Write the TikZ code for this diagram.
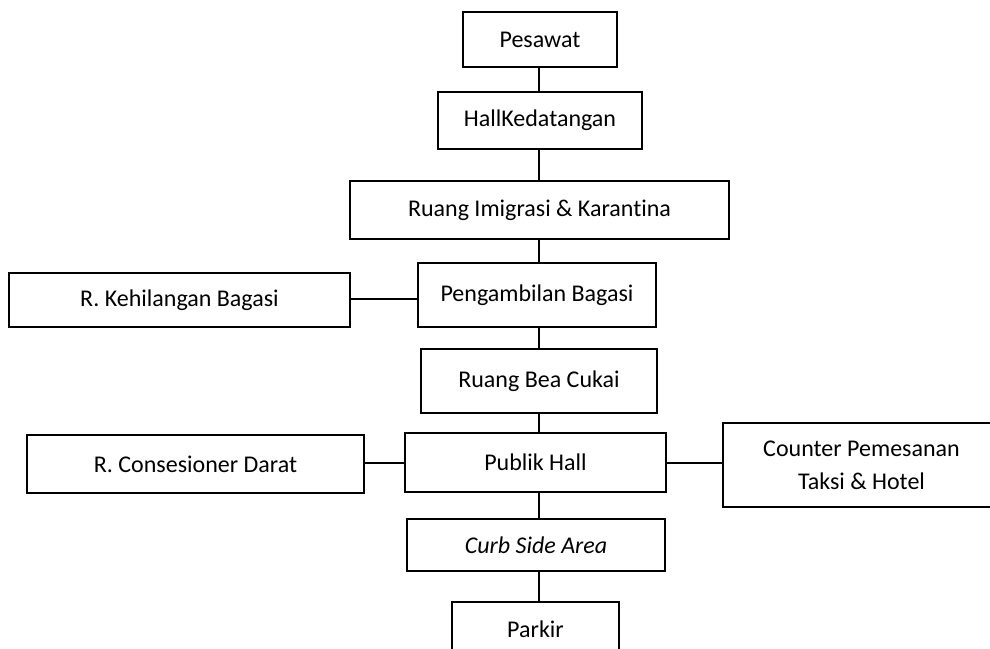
\documentclass[tikz,border=0pt]{standalone}
\usepackage{fontspec}
\setmainfont{Carlito}[Ligatures=NoCommon]
\begin{document}
\begin{tikzpicture}[x=0.5pt,y=-0.5pt,
  box/.style={draw, line width=1pt, inner sep=0pt, align=center,
    font=\fontsize{12}{16.5}\selectfont},
  link/.style={line width=1pt}]
  \useasboundingbox (0,0) rectangle (990,648);
  \clip (0,0) rectangle (990,648);

  % main arrival sequence
  \node[box, minimum width=77pt,  minimum height=27.5pt] (pes)    at (540,39.5)  {Pesawat};
  \node[box, minimum width=102pt, minimum height=28.5pt] (hall)   at (540,120.5) {HallKedatangan};
  \node[box, minimum width=189.5pt, minimum height=29pt] (imig)   at (539.5,210) {Ruang Imigrasi \& Karantina};
  \node[box, minimum width=119pt, minimum height=32pt]   (ambil)  at (537,295)   {Pengambilan Bagasi};
  \node[box, minimum width=118pt, minimum height=32pt]   (bea)    at (539,381)   {Ruang Bea Cukai};
  \node[box, minimum width=130.5pt, minimum height=29.5pt] (publik) at (535.5,462.5) {Publik Hall};
  \node[box, minimum width=129pt, minimum height=26pt]   (curb)   at (536,545)   {\itshape Curb Side Area};
  \node[box, minimum width=83.5pt, minimum height=27.5pt] (parkir) at (535.5,629.5) {Parkir};

  % side rooms
  \node[box, minimum width=170.5pt, minimum height=27pt] (keh)   at (179.5,300) {R. Kehilangan Bagasi};
  \node[box, minimum width=168.5pt, minimum height=29pt] (cons)  at (195.5,464) {R. Consesioner Darat};
  \node[box, minimum width=138.5pt, minimum height=42pt] (taksi) at (861.5,465) {Counter Pemesanan\\Taksi \& Hotel};

  % vertical spine
  \coordinate (spine) at (539,0);
  \draw[link] (pes.south -| spine)    -- (hall.north -| spine);
  \draw[link] (hall.south -| spine)   -- (imig.north -| spine);
  \draw[link] (imig.south -| spine)   -- (ambil.north -| spine);
  \draw[link] (ambil.south -| spine)  -- (bea.north -| spine);
  \draw[link] (bea.south -| spine)    -- (publik.north -| spine);
  \draw[link] (publik.south -| spine) -- (curb.north -| spine);
  \draw[link] (curb.south -| spine)   -- (parkir.north -| spine);

  % side branches
  \draw[link] (keh.east |- 0,299) -- (ambil.west |- 0,299);
  \draw[link] (publik.west) -- (publik.west -| cons.east);
  \draw[link] (publik.east) -- (publik.east -| taksi.west);
\end{tikzpicture}
\end{document}
